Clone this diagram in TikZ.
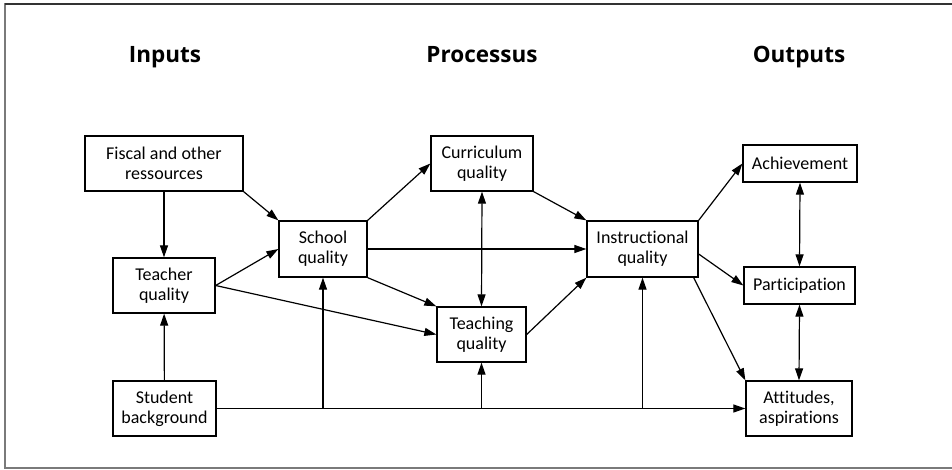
\documentclass[tikz,border=0pt]{standalone}
\usepackage{fontspec}
\setmainfont{Carlito}[Ligatures=NoCommon]
\newfontfamily\headfont{Open Sans}
\usetikzlibrary{arrows.meta}
\definecolor{frame}{HTML}{7a7a7a}
\newcommand{\boxfont}{\fontsize{18}{20}\selectfont}

\begin{document}
\begin{tikzpicture}[x=1pt, y=-1pt,
    box/.style={draw, line width=1.3pt, align=center, inner sep=0pt, font=\boxfont},
    head/.style={anchor=base, font=\headfont\bfseries\fontsize{22.5}{26}\selectfont},
    link/.style={line width=1.2pt, -{Triangle[length=12pt, width=8pt]}},
    both/.style={line width=1.2pt, {Triangle[length=12pt, width=8pt]}-{Triangle[length=12pt, width=8pt]}}]
      \useasboundingbox (0,0) rectangle (952,469);
      % frame
      \draw[frame, line width=1.5pt] (952,4) -- (5,4) -- (5,468) -- (952,468);
      \draw[black!80, line width=1.5pt] (5,4) -- (952,4);

      % column heads
      \node[head] (hin) at (165,62) {Inputs};
      \node[head] (hpro) at (482,62) {Processus};
      \node[head] (hout) at (799,62) {Outputs};

      % inputs
      \node[box, minimum width=158pt, minimum height=55pt] (fiscal) at (164,163.5) {Fiscal and other\\ressources};
      \node[box, minimum width=102pt, minimum height=55pt] (teacher) at (164,285.5) {Teacher\\quality};
      \node[box, minimum width=103pt, minimum height=55pt] (student) at (164.5,408.5) {Student\\background};
      % processus
      \node[box, minimum width=88pt, minimum height=56pt] (school) at (323,249) {School\\quality};
      \node[box, minimum width=102pt, minimum height=55pt] (curric) at (482,163.5) {Curriculum\\quality};
      \node[box, minimum width=89pt, minimum height=55pt] (teaching) at (481.5,334.5) {Teaching\\quality};
      \node[box, minimum width=111pt, minimum height=56pt] (instr) at (642.5,249) {Instructional\\quality};
      % outputs
      \node[box, minimum width=114pt, minimum height=37pt] (achieve) at (800,163.5) {Achievement};
      \node[box, minimum width=111pt, minimum height=37pt] (partic) at (799.5,285.5) {Participation};
      \node[box, minimum width=106pt, minimum height=55pt] (attit) at (799,408.5) {Attitudes,\\aspirations};

      % from the inputs
      \draw[link] (fiscal) -- (teacher);
      \draw[link] (fiscal.south east) -- (school.north west);
      \draw[link] (student) -- (teacher);
      \draw[link] (teacher.east) -- (school.west);
      \draw[link] (teacher.east) -- (teaching.west);

      % student background line
      \draw[link] (student.east) -- (attit.west);
      \draw[link] (school.south |- student.east) -- (school.south);
      \draw[link] (teaching.south |- student.east) -- (teaching.south);
      \draw[link] (instr.south |- student.east) -- (instr.south);

      % processus
      \draw[link] (school.north east) -- (curric.west);
      \draw[link] (school.east) -- (instr.west);
      \draw[link] (school.south east) -- (teaching.north west);
      \draw[link] (curric.south east) -- (instr.north west);
      \draw[both] (curric.south) -- (teaching.north);
      \draw[link] (teaching.east) -- (instr.south west);

      % to the outputs
      \draw[link] (instr.north east) -- (achieve.west);
      \draw[link] ([yshift=-5pt]instr.east) -- (partic.west);
      \draw[link] ([xshift=-5pt]instr.south east) -- (attit.north west);
      \draw[both] (achieve.south) -- (partic.north);
      \draw[both] (partic.south) -- (attit.north);
    \end{tikzpicture}
\end{document}
